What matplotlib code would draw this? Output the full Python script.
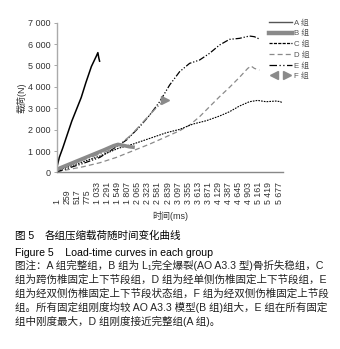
import matplotlib
matplotlib.use("Agg")
import matplotlib.pyplot as plt
from matplotlib.lines import Line2D
from matplotlib.legend_handler import HandlerTuple

plt.rcParams['font.family'] = ['Liberation Sans', 'Noto Sans CJK SC', 'DejaVu Sans']

# x ticks (ms)
tick_ms = [1, 259, 517, 775, 1033, 1291, 1549, 1807, 2065, 2323, 2581, 2839,
           3097, 3355, 3613, 3871, 4129, 4387, 4645, 4903, 5161, 5419, 5677]
tick_labels = ["1", "259", "517", "775", "1 033", "1 291", "1 549", "1 807",
               "2 065", "2 323", "2 581", "2 839", "3 097", "3 355", "3 613",
               "3 871", "4 129", "4 387", "4 645", "4 903", "5 161", "5 419",
               "5 677"]

# curves (time ms, load N)
a_t = [1, 60, 150, 260, 380, 500, 620, 740, 880, 1010, 1046, 1070, 1090]
a_y = [250, 700, 1150, 1750, 2400, 2950, 3500, 4200, 4950, 5450, 5600, 5350, 5200]

b_t = [1, 400, 800, 1200, 1450, 1560, 1700, 1850, 1990]
b_y = [150, 450, 750, 1050, 1250, 1310, 1260, 1200, 1170]

c_t = [1, 671, 1097, 1563, 1946, 2371, 2795, 3135, 3475, 3815, 4155, 4410,
       4664, 4919, 5131, 5344, 5598, 5725, 5745]
c_y = [80, 500, 764, 1122, 1325, 1590, 1855, 2011, 2260, 2416, 2635, 2837,
       3102, 3305, 3367, 3305, 3336, 3305, 3227]

d_t = [1, 671, 1097, 1520, 1946, 2371, 2795, 3135, 3390, 3645, 3900, 4155,
       4410, 4664, 4877, 4962, 5046, 5174]
d_y = [30, 265, 452, 702, 1013, 1325, 1668, 1949, 2214, 2603, 3071, 3539,
       3975, 4443, 4864, 4973, 4864, 4786]

e_t = [1, 671, 1097, 1520, 1776, 2116, 2371, 2625, 2880, 3135, 3390, 3645,
       3900, 4155, 4410, 4664, 4919, 5046, 5174]
e_y = [30, 421, 702, 1200, 1512, 2136, 2681, 3305, 4085, 4708, 5098, 5254,
       5566, 5955, 6220, 6267, 6376, 6345, 6236]

f_t = [1, 700, 1300, 1600, 1900, 2200, 2500, 2750]
f_y = [100, 600, 1000, 1300, 1750, 2350, 2950, 3380]

group_labels = ["A 组", "B 组", "C 组", "D 组", "E 组", "F 组"]

GRAY = "#8a8a8a"

fig = plt.figure(figsize=(3.4, 3.49), dpi=100)
ax = fig.add_axes([0.1676, 0.506, 0.665, 0.429])

ax.plot(d_t, d_y, color=GRAY, lw=0.9, ls=(0, (4, 2.5)))
ax.plot(c_t, c_y, color="black", lw=0.8, ls=(0, (1.5, 1)))
ax.plot(e_t, e_y, color="black", lw=0.9, ls=(0, (5, 1.5, 1, 1.5, 1, 1.5)))
ax.plot(f_t, f_y, color=GRAY, lw=1.0, ls=(0, (5, 1.5, 1, 1.5)),
        marker=">", markevery=[len(f_t) - 1], markersize=6, mec=GRAY, mfc=GRAY)
ax.plot(b_t, b_y, color=GRAY, lw=2.6, solid_capstyle="butt")
ax.plot(a_t, a_y, color="black", lw=1.1)

ax.set_xlim(1, 5780)
ax.set_ylim(0, 7000)
ax.set_yticks(range(0, 7001, 1000))
ax.set_yticklabels(["0", "1 000", "2 000", "3 000", "4 000", "5 000",
                    "6 000", "7 000"], fontsize=6.5, color="#333333")
ax.set_xticks(tick_ms)
ax.set_xticklabels(tick_labels, rotation=90, fontsize=6.3, color="#333333",
                   va="bottom")
ax.tick_params(axis="x", length=0, pad=23)
ax.tick_params(axis="y", length=2.5, width=0.6, color="#999999", pad=2)
for s in ["top", "right"]:
    ax.spines[s].set_visible(False)
ax.spines["left"].set_color("#aaaaaa")
ax.spines["bottom"].set_color("#888888")
ax.spines["left"].set_linewidth(1.0)
ax.spines["bottom"].set_linewidth(1.0)

ax.set_ylabel("载荷(N)", fontsize=6.5, color="#333333", labelpad=1)
fig.text(0.5, 1 - 216 / 349, "时间(ms)", fontsize=6.5, color="#333333",
         ha="center", va="center")

handles = [
    Line2D([], [], color="#555555", lw=1.0),
    Line2D([], [], color=GRAY, lw=3.2),
    Line2D([], [], color="black", lw=0.9, ls=(0, (2.5, 1))),
    Line2D([], [], color=GRAY, lw=0.9, ls=(0, (4, 2.5))),
    Line2D([], [], color="black", lw=0.9, ls=(0, (6, 2, 1, 2, 1, 2))),
    (Line2D([], [], color=GRAY, lw=0, marker="<", markersize=6),
     Line2D([], [], color=GRAY, lw=0, marker=">", markersize=6)),
]
leg = fig.legend(handles, group_labels, loc="upper left",
                 bbox_to_anchor=(0.77, 0.965), frameon=False, fontsize=5.6,
                 handlelength=3.0, handletextpad=0.25, labelspacing=0.42,
                 numpoints=1,
                 handler_map={tuple: HandlerTuple(ndivide=None, pad=0.3)})
for t in leg.get_texts():
    t.set_color("#555555")

# captions
fs = 7.6
fig.text(0.044, 1 - 236 / 349, "图 5", fontsize=fs, va="center", color="black")
fig.text(0.132, 1 - 236 / 349, "各组压缩载荷随时间变化曲线", fontsize=fs,
         va="center", color="black")
fig.text(0.044, 1 - 253 / 349, "Figure 5    Load-time curves in each group",
         fontsize=fs, va="center", color="black")

notes = [
    "图注：A 组完整组，B 组为 L₁完全爆裂(AO A3.3 型)骨折失稳组，C",
    "组为跨伤椎固定上下节段组，D 组为经单侧伤椎固定上下节段组，E",
    "组为经双侧伤椎固定上下节段状态组，F 组为经双侧伤椎固定上节段",
    "组。所有固定组刚度均较 AO A3.3 模型(B 组)组大，E 组在所有固定",
    "组中刚度最大，D 组刚度接近完整组(A 组)。",
]
for i, line in enumerate(notes):
    fig.text(0.044, 1 - (265.5 + i * 14) / 349, line, fontsize=fs,
             va="center", color="#222222")

fig.savefig("out.png", dpi=100)
